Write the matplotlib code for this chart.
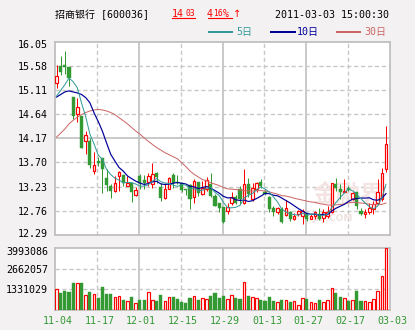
import matplotlib
matplotlib.use("Agg")
import matplotlib.pyplot as plt
import matplotlib.transforms as mtransforms
import numpy as np
import pandas as pd

# ---------------- data ----------------
tick_labels = ["11-04", "11-17", "12-01", "12-15", "12-29", "01-13", "01-27", "02-17", "03-03"]

opens = [15.24, 15.58, 15.60, 15.55, 14.98, 14.65, 14.61, 14.12, 14.12, 13.53,
         13.73, 13.78, 13.39, 13.25, 13.14, 13.43, 13.45, 13.25, 13.31, 13.07,
         13.44, 13.36, 13.32, 13.29, 13.50, 13.23, 13.01, 13.19, 13.45, 13.32,
         13.31, 13.19, 13.26, 13.03, 13.32, 13.08, 13.19, 13.29, 13.04, 12.91,
         12.83, 12.76, 12.92, 13.02, 13.19, 12.92, 13.29, 12.99, 13.19, 13.32,
         13.13, 13.03, 12.81, 12.73, 12.79, 12.68, 12.74, 12.61, 12.70, 12.66,
         12.70, 12.61, 12.65, 12.70, 12.63, 12.65, 12.73, 13.28, 13.18, 13.13,
         13.21, 12.99, 13.12, 12.76, 12.70, 12.74, 12.79, 12.92, 12.99, 13.57]
closes = [15.37, 15.45, 15.56, 15.35, 14.61, 14.77, 13.99, 14.24, 13.65, 13.65,
          13.69, 13.57, 13.27, 13.14, 13.30, 13.51, 13.30, 13.31, 13.12, 13.16,
          13.31, 13.30, 13.44, 13.47, 13.42, 13.00, 13.18, 13.39, 13.30, 13.30,
          13.16, 13.16, 12.99, 13.34, 13.10, 13.21, 13.36, 13.05, 12.86, 12.81,
          12.55, 12.84, 13.03, 12.92, 12.99, 13.28, 13.08, 13.21, 13.30, 13.25,
          13.08, 12.79, 12.73, 12.81, 12.55, 12.81, 12.60, 12.66, 12.75, 12.76,
          12.61, 12.66, 12.73, 12.61, 12.74, 12.74, 13.30, 13.20, 13.12, 13.15,
          13.17, 13.10, 12.86, 12.70, 12.73, 12.81, 12.90, 13.12, 13.49, 14.06]
highs = [15.59, 15.77, 15.86, 15.55, 14.98, 14.96, 14.61, 14.32, 14.17, 13.91,
         13.80, 13.78, 13.57, 13.28, 13.44, 13.54, 13.45, 13.44, 13.31, 13.22,
         13.47, 13.45, 13.50, 13.69, 13.52, 13.31, 13.31, 13.41, 13.49, 13.45,
         13.31, 13.19, 13.29, 13.38, 13.32, 13.34, 13.41, 13.49, 13.08, 12.92,
         12.83, 12.92, 13.13, 13.06, 13.25, 13.57, 13.39, 13.31, 13.32, 13.38,
         13.16, 13.05, 12.86, 12.83, 12.83, 12.97, 12.76, 12.72, 12.77, 12.79,
         12.73, 12.70, 12.76, 12.81, 12.79, 12.85, 13.31, 13.40, 13.28, 13.38,
         13.24, 13.13, 13.12, 12.81, 12.79, 12.92, 12.96, 13.38, 13.60, 14.41]
lows = [15.14, 15.40, 15.42, 15.19, 14.54, 14.48, 13.98, 13.86, 13.60, 13.47,
        13.64, 13.10, 13.15, 13.00, 13.12, 13.15, 13.25, 13.25, 12.94, 13.05,
        13.18, 13.18, 13.25, 13.21, 13.31, 12.95, 12.99, 13.18, 13.21, 13.28,
        13.12, 13.06, 12.79, 12.91, 13.05, 13.07, 13.15, 13.02, 12.86, 12.73,
        12.52, 12.70, 12.87, 12.90, 12.89, 12.89, 13.02, 12.95, 13.12, 13.21,
        13.06, 12.73, 12.66, 12.70, 12.53, 12.66, 12.57, 12.58, 12.66, 12.50,
        12.57, 12.60, 12.60, 12.59, 12.55, 12.63, 12.72, 13.15, 12.99, 13.12,
        13.14, 12.97, 12.79, 12.67, 12.63, 12.70, 12.70, 12.89, 12.96, 13.52]
volumes = [1358000, 1052000, 1198000, 1118000, 1690000, 1730000, 1690000, 972000, 1118000, 1038000,
           745000, 1438000, 998000, 998000, 839000, 905000, 586000, 532000, 799000, 399000,
           612000, 612000, 1105000, 586000, 546000, 932000, 532000, 785000, 799000, 679000,
           492000, 426000, 745000, 905000, 612000, 719000, 652000, 865000, 1052000, 745000,
           865000, 652000, 972000, 745000, 679000, 1797000, 865000, 785000, 719000, 612000,
           546000, 799000, 546000, 466000, 612000, 586000, 492000, 532000, 293000, 719000,
           679000, 466000, 426000, 612000, 466000, 586000, 1411000, 1052000, 799000, 719000,
           546000, 586000, 1198000, 546000, 546000, 492000, 652000, 1225000, 2170000, 3993086]
# moving-average values before enough history is shown
ma5_head = [14.99, 15.10, 15.21, 15.34]
ma10_head = [14.97, 15.02, 15.07, 15.09, 15.07, 15.05, 15.02, 14.96, 14.86]
ma30_head = [14.19, 14.27, 14.35, 14.45, 14.52, 14.58, 14.63, 14.67, 14.70, 14.72,
             14.73, 14.72, 14.70, 14.67, 14.63, 14.57, 14.51, 14.45, 14.38, 14.31,
             14.25, 14.18, 14.11, 14.05, 13.99, 13.94, 13.89, 13.85, 13.81]
price_ticks = [12.29, 12.76, 13.23, 13.70, 14.17, 14.64, 15.11, 15.58, 16.05]
vol_ticks = [1331029, 2662057, 3993086]

# ---------------- styling ----------------
W, H = 415, 330
BG = "#f3f1f1"
RED = "#ff0000"
GREEN = "#339933"
C5, C10, C30 = "#339999", "#000099", "#cc6666"
FRAME = "#c0c0c0"
MONO = ["DejaVu Sans Mono", "Noto Sans CJK SC"]
PX = 72 / 100.0  # points per pixel at dpi 100

fig = plt.figure(figsize=(W / 100, H / 100), dpi=100, facecolor=BG)

def fx(x):
    return x / W

def fy(y):
    return 1 - y / H

ax = fig.add_axes([fx(55), fy(235), fx(390) - fx(55), fy(41.5) - fy(235)])
axv = fig.add_axes([fx(55), fy(309.5), fx(390) - fx(55), fy(248) - fy(309.5)])

n = len(closes)
xs = np.arange(n)
o = np.array(opens); c = np.array(closes); hi = np.array(highs); lo = np.array(lows)
up = c >= o
xlim = (-0.36, n - 0.04)

# moving averages
cs = pd.Series(c)
ma5 = cs.rolling(5).mean().to_numpy(); ma5[:4] = ma5_head
ma10 = cs.rolling(10).mean().to_numpy(); ma10[:9] = ma10_head
ma30 = cs.rolling(30).mean().to_numpy(); ma30[:29] = ma30_head

for a in (ax, axv):
    a.set_facecolor("white")
    a.set_xlim(*xlim)
    for s in a.spines.values():
        s.set_color(FRAME)
        s.set_linewidth(1.3)
    a.tick_params(length=0)

# vertical grid lines (alternating dashed / solid)
gx = np.linspace(xlim[0], xlim[1], 9)
for a in (ax, axv):
    for k in range(1, 8):
        if k % 2 == 0:
            a.axvline(gx[k], color=FRAME, lw=1.2, zorder=0.5)
        else:
            a.axvline(gx[k], color="#c8c8c8", lw=1.0, ls=(0, (3, 2)), zorder=0.5)

# price panel
ax.set_ylim(price_ticks[0], price_ticks[-1])
for v in price_ticks[1:-1]:
    if v == 14.17:
        ax.axhline(v, color=FRAME, lw=1.2, zorder=0.5)
    else:
        ax.axhline(v, color="#c8c8c8", lw=1.0, ls=(0, (3, 2)), zorder=0.5)
ax.set_yticks(price_ticks)
ax.set_yticklabels([f"{v:.2f}" for v in price_ticks], family=MONO, fontsize=10 * PX)
ax.set_xticks([])
ax.tick_params(axis="y", pad=5)
ylabs = ax.get_yticklabels()
ylabs[0].set_transform(ylabs[0].get_transform() + mtransforms.ScaledTranslation(0, 2 / 100, fig.dpi_scale_trans))
ylabs[-1].set_transform(ylabs[-1].get_transform() + mtransforms.ScaledTranslation(0, -2 / 100, fig.dpi_scale_trans))

# watermark
ax.text(0.875, 0.205, "金融界", transform=ax.transAxes, fontsize=24 * PX, color="#f3e3e3",
        ha="center", va="center", family=["Noto Sans CJK SC"], zorder=0.6, fontweight="bold")
ax.text(0.83, 0.085, "JRJ.COM", transform=ax.transAxes, fontsize=9 * PX, color="#f0e0e0",
        ha="center", va="center", family=["DejaVu Sans"], zorder=0.6, fontweight="bold")

# wicks
ax.vlines(xs[up], lo[up], hi[up], color=RED, lw=1.0 * PX, zorder=2)
ax.vlines(xs[~up], lo[~up], hi[~up], color=GREEN, lw=1.0 * PX, zorder=2)
# bodies
bot = np.minimum(o, c)
ht = np.maximum(np.abs(c - o), 0.012)
ax.bar(xs[up], ht[up], bottom=bot[up], width=0.6, facecolor="white", edgecolor=RED,
       linewidth=1.0 * PX * 1.2, zorder=3)
ax.bar(xs[~up], ht[~up], bottom=bot[~up], width=0.74, facecolor=GREEN, edgecolor=GREEN,
       linewidth=0.3, zorder=3)

# moving average lines
ax.plot(xs, ma30, color=C30, lw=1.0 * PX, zorder=4)
ax.plot(xs, ma10, color=C10, lw=1.2 * PX, zorder=4)
ax.plot(xs, ma5, color=C5, lw=1.0 * PX, zorder=4)

# volume panel
vol = np.array(volumes)
axv.set_ylim(0, vol_ticks[-1])
for v in vol_ticks[:-1]:
    axv.axhline(v, color="#c8c8c8", lw=1.0, ls=(0, (3, 2)), zorder=0.5)
axv.bar(xs[up], vol[up], width=0.6, facecolor="white", edgecolor=RED, linewidth=1.0 * PX * 1.2, zorder=3)
axv.bar(xs[~up], vol[~up], width=0.74, facecolor=GREEN, edgecolor=GREEN, linewidth=0.3, zorder=3)
axv.set_yticks(vol_ticks)
axv.set_yticklabels([str(v) for v in vol_ticks], family=MONO, fontsize=10 * PX)
axv.tick_params(axis="y", pad=5)
vlabs = axv.get_yticklabels()
vlabs[-1].set_transform(vlabs[-1].get_transform() + mtransforms.ScaledTranslation(0, -3 / 100, fig.dpi_scale_trans))
axv.set_xticks(gx)
axv.set_xticklabels(tick_labels, family=MONO, fontsize=10 * PX, color=GREEN)
axv.tick_params(axis="x", pad=5)
shift = mtransforms.ScaledTranslation(2.5 / 100, 0, fig.dpi_scale_trans)
for lab in axv.get_xticklabels():
    lab.set_transform(lab.get_transform() + shift)

# header
fs = 10 * PX
fig.text(fx(55), fy(15), "招商银行 [600036]", family=MONO, fontsize=fs, color="black",
         ha="left", va="center")
fig.text(fx(172), fy(14), "14", family=MONO, fontsize=fs, color=RED, ha="left", va="center")
fig.text(fx(185), fy(14), "03", family=MONO, fontsize=8 * PX, color=RED, ha="left", va="center")
fig.text(fx(207), fy(14), "4", family=MONO, fontsize=fs, color=RED, ha="left", va="center")
fig.text(fx(213), fy(14), "16", family=MONO, fontsize=8 * PX, color=RED, ha="left", va="center")
fig.text(fx(223), fy(14), "%", family=MONO, fontsize=fs, color=RED, ha="left", va="center")
fig.text(fx(233), fy(14), "↑", family=["DejaVu Sans"], fontsize=fs, color=RED, ha="left", va="center")
fig.lines.append(plt.Line2D([fx(172), fx(195)], [fy(18), fy(18)], transform=fig.transFigure, color=RED, lw=0.8))
fig.lines.append(plt.Line2D([fx(208), fx(232)], [fy(18), fy(18)], transform=fig.transFigure, color=RED, lw=0.8))
fig.text(fx(389), fy(15), "2011-03-03 15:00:30", family=MONO, fontsize=fs, color="black",
         ha="right", va="center")

# legend row
for x0, x1, tx, lab, col in [(209, 232, 236, "5日", C5), (271, 295, 297, "10日", C10),
                             (337, 360, 364, "30日", C30)]:
    fig.lines.append(plt.Line2D([fx(x0), fx(x1)], [fy(32), fy(32)], transform=fig.transFigure,
                                color=col, lw=2.0 * PX))
    fig.text(fx(tx), fy(32), lab, family=MONO, fontsize=fs, color=col, ha="left", va="center")

fig.savefig("out.png", dpi=100, facecolor=BG)
